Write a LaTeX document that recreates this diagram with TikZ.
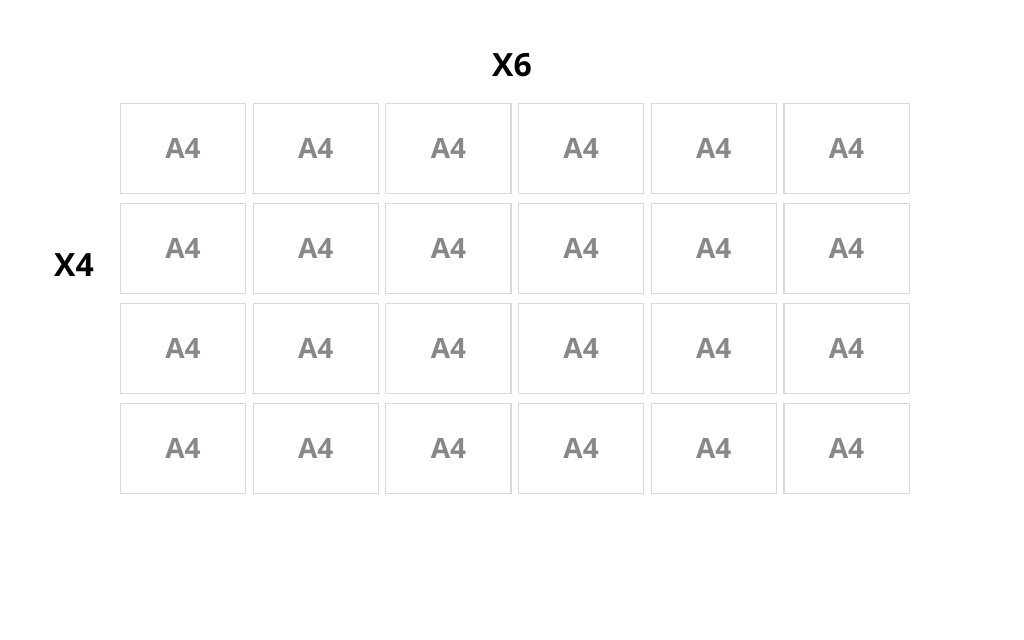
\documentclass[tikz,border=0pt]{standalone}
\usepackage{fontspec}
\setmainfont{Open Sans}
\usetikzlibrary{positioning}
\definecolor{sheetline}{RGB}{218, 218, 218}
\definecolor{sheettext}{RGB}{136, 136, 136}
\begin{document}
\begin{tikzpicture}[
        x=0.5pt, y=-0.5pt,
        sheet/.style={draw=sheetline, line width=0.6pt, minimum width=62.6pt, minimum height=45.2pt, inner sep=0pt, font=\fontsize{14}{16}\selectfont\bfseries, text=sheettext},
        count/.style={font=\fontsize{16}{18}\selectfont\bfseries, text=black}
    ]
        \useasboundingbox (0, 0) rectangle (1024, 640);

        % A4 sheets, 6 across and 4 down
        \foreach \col in {0,...,5} {
            \foreach \row in {0,...,3} {
                \node[sheet] (s\row\col) at (183 + 132.7*\col, 148.5 + 100*\row) {A4};
            }
        }

        % Counts
        \node[count] (across) at (512, 65) {X6};
        \node[count] (down) at (74, 265) {X4};
    \end{tikzpicture}
\end{document}
